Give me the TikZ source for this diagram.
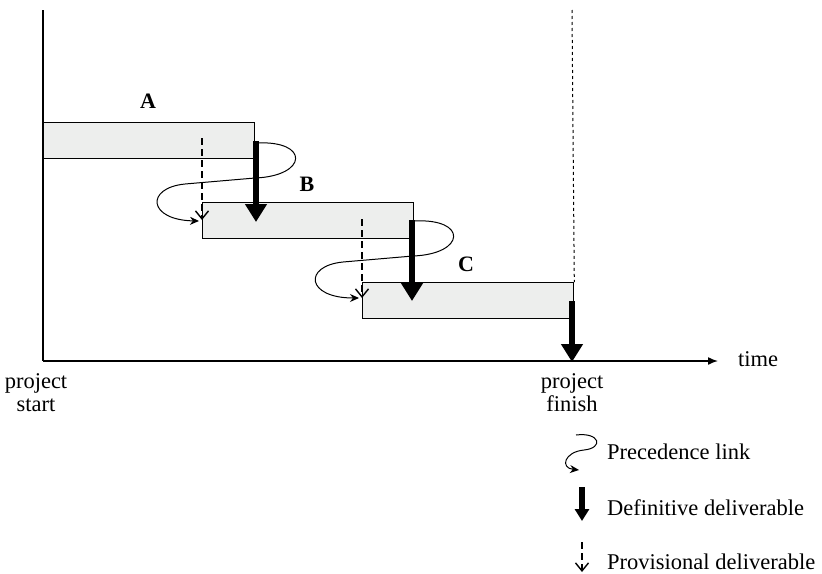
\documentclass[tikz,border=0pt]{standalone}
\usepackage{fontspec}
\setmainfont{Liberation Serif}
\usetikzlibrary{arrows.meta,calc}
\definecolor{barfill}{HTML}{EDEEED}
\begin{document}
\begin{tikzpicture}[x=1pt,y=-1pt,
  bar/.style={draw=black,line width=1.3pt,fill=barfill,minimum width=211pt,minimum height=36pt,anchor=north west,inner sep=0pt},
  lbl/.style={font=\fontsize{22}{25}\selectfont\bfseries,inner sep=0pt},
  txt/.style={font=\fontsize{22.5}{23}\selectfont,align=center,inner sep=0pt},
  defin/.style={line width=6.5pt,-{Triangle[length=18pt,width=21pt]}},
  definsmall/.style={line width=5.5pt,-{Triangle[length=12pt,width=14pt]}},
  prov/.style={line width=2.2pt,dash pattern=on 7pt off 4pt,-{Straight Barb[length=8pt,width=13pt,line width=1.4pt]}},
  link/.style={line width=1pt,-{Stealth[length=9pt,width=8pt]}},
  axis/.style={line width=1.5pt},
  finish/.style={line width=1pt,dash pattern=on 3pt off 3pt}]
\useasboundingbox (0,0) rectangle (822,573);

% axes
\coordinate (top) at (43,10);
\coordinate (O) at (43,361);
\coordinate (tend) at (718,361);
\draw[axis] (top) -- (O);
\draw[axis,-{Latex[length=10pt,width=8pt]}] (O) -- (tend);
\node[txt] (time) at (758,359) {time};
\node[txt] (pstart) at (36,393) {project\\start};
\node[txt] (pfinish) at (572,393) {project\\finish};

% bars
\node[bar] (A) at (43,122) {};
\node[bar] (B) at (202,202) {};
\node[bar] (C) at (362,282) {};
\node[lbl] (la) at (148,101) {A};
\node[lbl] (lb) at (307,184) {B};
\node[lbl] (lc) at (466,264) {C};

% finish dashed line
\coordinate (ftop) at (572,10);
\draw[finish] (ftop) -- (C.north east);

% precedence links
\coordinate (pa1) at (256,143);
\coordinate (pa2) at (199,221);
\draw[link] (pa1) .. controls (310,140) and (308,176) .. (255,178)
  -- (185,184) .. controls (145,188) and (148,220) .. (pa2);
\coordinate (pb1) at (414,221);
\coordinate (pb2) at (359,298);
\draw[link] (pb1) .. controls (468,218) and (466,254) .. (413,256)
  -- (343,262) .. controls (303,266) and (306,298) .. (pb2);

% provisional deliverables
\coordinate (qa1) at (202,138);
\coordinate (qa2) at (202,220);
\draw[prov] (qa1) -- (qa2);
\coordinate (qb1) at (362,219);
\coordinate (qb2) at (362,298);
\draw[prov] (qb1) -- (qb2);

% definitive deliverables
\coordinate (da1) at (256,141);
\coordinate (da2) at (256,222);
\draw[defin] (da1) -- (da2);
\coordinate (db1) at (412,220);
\coordinate (db2) at (412,301);
\draw[defin] (db1) -- (db2);
\coordinate (dc1) at (572,301);
\coordinate (dc2) at (572,362);
\draw[defin] (dc1) -- (dc2);

% legend
\coordinate (l1a) at (576,435);
\coordinate (l1b) at (579,470);
\draw[link] (l1a) .. controls (600,432) and (604,448) .. (584,450)
  .. controls (564,452) and (560,468) .. (l1b);
\node[txt,anchor=west] (t1) at (607,452) {Precedence link};
\coordinate (l2a) at (582,487);
\coordinate (l2b) at (582,521);
\draw[definsmall] (l2a) -- (l2b);
\node[txt,anchor=west] (t2) at (607,508) {Definitive deliverable};
\coordinate (l3a) at (582,542);
\coordinate (l3b) at (582,572);
\draw[prov] (l3a) -- (l3b);
\node[txt,anchor=west] (t3) at (607,562) {Provisional deliverable};
\end{tikzpicture}
\end{document}
